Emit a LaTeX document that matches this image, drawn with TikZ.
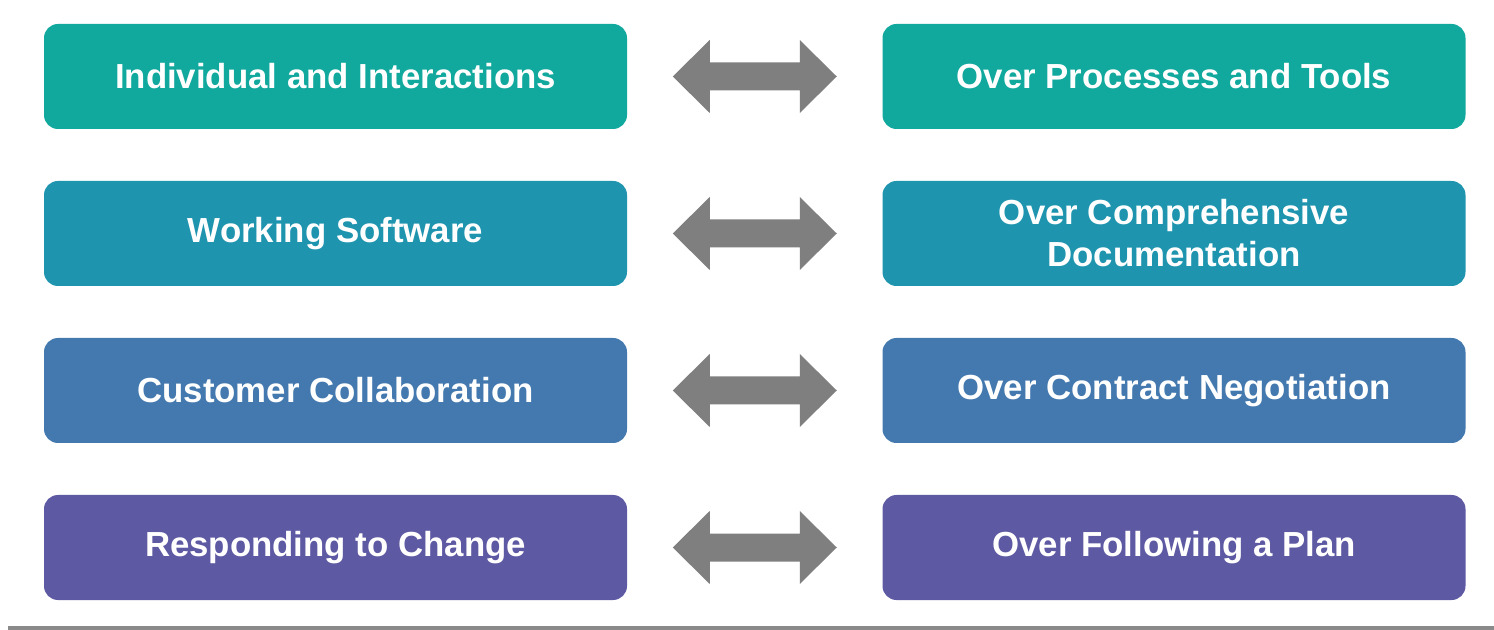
\documentclass[tikz,border=0pt]{standalone}
\usepackage{fontspec}
\setmainfont{Liberation Sans}
\usetikzlibrary{calc}
\definecolor{rowA}{HTML}{11A89E}
\definecolor{rowB}{HTML}{1E94AF}
\definecolor{rowC}{HTML}{4479AF}
\definecolor{rowD}{HTML}{5E59A3}
\definecolor{arrowgray}{HTML}{7F7F7F}
\definecolor{linegray}{HTML}{8A8A8A}
\tikzset{
  valuebox/.style={rounded corners=7pt, minimum width=291.5pt, minimum height=52.5pt,
    inner sep=0pt, text=white, align=center,
    font=\fontsize{17.4pt}{21pt}\selectfont\bfseries},
  dblarrow/.style={fill=arrowgray}
}
\begin{document}
\begin{tikzpicture}[x=0.5pt,y=-0.5pt]
\useasboundingbox (0,0) rectangle (1494,630);
\fill[white] (0,0) rectangle (1494,630);
% left column
\node[valuebox, fill=rowA] (L1) at (335.5,76.5) {Individual and Interactions};
\node[valuebox, fill=rowB] (L2) at (335.5,233.5) {Working Software};
\node[valuebox, fill=rowC] (L3) at (335.5,390.5) {Customer Collaboration};
\node[valuebox, fill=rowD] (L4) at (335.5,547.5) {Responding to Change};
% right column
\node[valuebox, fill=rowA] (R1) at (1174,76.5) {Over Processes and Tools};
\node[valuebox, fill=rowB] (R2) at (1174,233.5) {Over Comprehensive\\Documentation};
\node[valuebox, fill=rowC] (R3) at (1174,390.5) {Over Contract Negotiation};
\node[valuebox, fill=rowD] (R4) at (1174,547.5) {Over Following a Plan};
% double arrows
\foreach \i in {1,2,3,4}{
  \coordinate (M\i) at ($(L\i.east)!0.5!(R\i.west)$);
  \fill[dblarrow, shift={(M\i)}]
    (-82,0) -- (-45,-36.5) -- (-45,-14) -- (45,-14) -- (45,-36.5) -- (82,0)
    -- (45,36.5) -- (45,14) -- (-45,14) -- (-45,36.5) -- cycle;
}
% bottom line
\coordinate (BL) at (8,626);
\coordinate (BR) at (1494,630);
\fill[linegray] (BL) rectangle (BR);
\end{tikzpicture}
\end{document}
